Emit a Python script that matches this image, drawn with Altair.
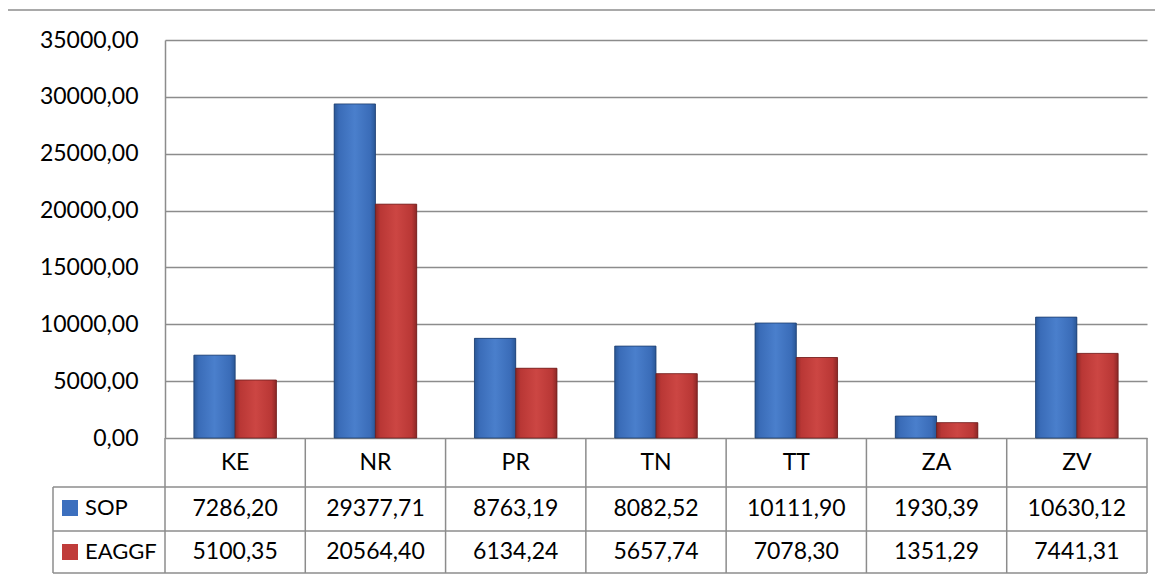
import altair as alt
import pandas as pd

categories = ["KE", "NR", "PR", "TN", "TT", "ZA", "ZV"]
series_names = ["SOP", "EAGGF"]
sop = [7286.20, 29377.71, 8763.19, 8082.52, 10111.90, 1930.39, 10630.12]
eaggf = [5100.35, 20564.40, 6134.24, 5657.74, 7078.30, 1351.29, 7441.31]
y_ticks = [0, 5000, 10000, 15000, 20000, 25000, 30000, 35000]

rows = []
for s, vals in zip(series_names, [sop, eaggf]):
    for c, v in zip(categories, vals):
        rows.append({"category": c, "series": s, "value": v,
                     "label": f"{v:.2f}".replace(".", ",")})
df = pd.DataFrame(rows)
cat_df = pd.DataFrame({"category": categories})
one = pd.DataFrame({"k": [0]})

W, H = 982, 398
FONT = "Lato"
FS = 23
GRID = "#8c8c8c"
LW = 1.5

x = alt.X("category:N", sort=categories,
          scale=alt.Scale(paddingInner=0, paddingOuter=0), axis=None)
xoff = alt.XOffset("series:N", sort=series_names,
                   scale=alt.Scale(domain=series_names, paddingInner=0, paddingOuter=0.7))
y = alt.Y("value:Q", scale=alt.Scale(domain=[0, 35000], nice=False),
          axis=alt.Axis(values=y_ticks,
                        labelExpr="replace(format(datum.value, '.2f'), '.', ',')",
                        title=None, grid=True, gridColor=GRID, gridWidth=LW,
                        domainColor=GRID, domainWidth=LW, ticks=False,
                        labelPadding=27, labelFont=FONT, labelFontSize=FS,
                        labelColor="black"))


def grad(stops):
    return alt.Gradient(gradient="linear", x1=0, x2=1, y1=0, y2=0,
                        stops=[alt.GradientStop(offset=o, color=c) for o, c in stops])


blue_grad = grad([(0, "#2a5796"), (0.12, "#3a6cb8"), (0.5, "#4a7fcc"), (0.88, "#3a6cb8"), (1, "#2a5796")])
red_grad = grad([(0, "#8c2826"), (0.12, "#b93735"), (0.5, "#cc4643"), (0.88, "#b93735"), (1, "#8c2826")])

bars_flat = alt.Chart(df).mark_bar().encode(
    x=x, xOffset=xoff, y=y,
    color=alt.Color("series:N", sort=series_names,
                    scale=alt.Scale(domain=series_names, range=["#3c6fbe", "#c03c3a"]),
                    legend=alt.Legend(title=None, orient="none", direction="vertical",
                                      legendX=-106, legendY=457, symbolType="square",
                                      symbolSize=256, symbolStrokeWidth=0,
                                      labelFont=FONT, labelFontSize=22, labelColor="black",
                                      rowPadding=22, labelOffset=4, padding=0))
)

blue_bars = alt.Chart(df).transform_filter("datum.series == 'SOP'").mark_bar(
    fill=blue_grad, stroke="#1f3f6e", strokeWidth=0.8).encode(x=x, xOffset=xoff, y=y)
red_bars = alt.Chart(df).transform_filter("datum.series == 'EAGGF'").mark_bar(
    fill=red_grad, stroke="#6e1f1e", strokeWidth=0.8).encode(x=x, xOffset=xoff, y=y)

txt = dict(font=FONT, fontSize=FS, color="black", baseline="middle", align="center")
header = alt.Chart(cat_df).mark_text(**txt).encode(x=x, y=alt.value(423), text="category:N")
sop_text = alt.Chart(df).transform_filter("datum.series == 'SOP'").mark_text(**txt).encode(
    x=x, y=alt.value(469), text="label:N")
eaggf_text = alt.Chart(df).transform_filter("datum.series == 'EAGGF'").mark_text(**txt).encode(
    x=x, y=alt.value(512), text="label:N")

vlines = alt.Chart(cat_df).mark_rule(color=GRID, strokeWidth=LW).encode(
    x=alt.X("category:N", sort=categories, bandPosition=0,
            scale=alt.Scale(paddingInner=0, paddingOuter=0), axis=None),
    y=alt.value(398), y2=alt.value(533))

rule = dict(color=GRID, strokeWidth=LW)
right_edge = alt.Chart(one).mark_rule(**rule).encode(x=alt.value(W), y=alt.value(398), y2=alt.value(533))
left_col = alt.Chart(one).mark_rule(**rule).encode(x=alt.value(-112), y=alt.value(447), y2=alt.value(533))
h1 = alt.Chart(one).mark_rule(**rule).encode(x=alt.value(-112), x2=alt.value(W), y=alt.value(447))
h2 = alt.Chart(one).mark_rule(**rule).encode(x=alt.value(-112), x2=alt.value(W), y=alt.value(491))
h3 = alt.Chart(one).mark_rule(**rule).encode(x=alt.value(-112), x2=alt.value(W), y=alt.value(533))
frame_left = alt.Chart(one).mark_rule(**rule).encode(x=alt.value(-158), y=alt.value(-30), y2=alt.value(536))
frame_top = alt.Chart(one).mark_rule(**rule).encode(x=alt.value(-158), x2=alt.value(W + 8), y=alt.value(-30))

chart = alt.layer(
    bars_flat, blue_bars, red_bars,
    vlines, right_edge, left_col, h1, h2, h3, frame_left, frame_top,
    header, sop_text, eaggf_text,
).properties(
    width=W, height=H,
    autosize=alt.AutoSizeParams(type="none"),
    padding={"left": 157, "top": 32, "right": 8, "bottom": 136},
    background="white",
).configure_view(stroke=None)

chart.save("out.html", embed_options={"renderer": "svg", "actions": False})
